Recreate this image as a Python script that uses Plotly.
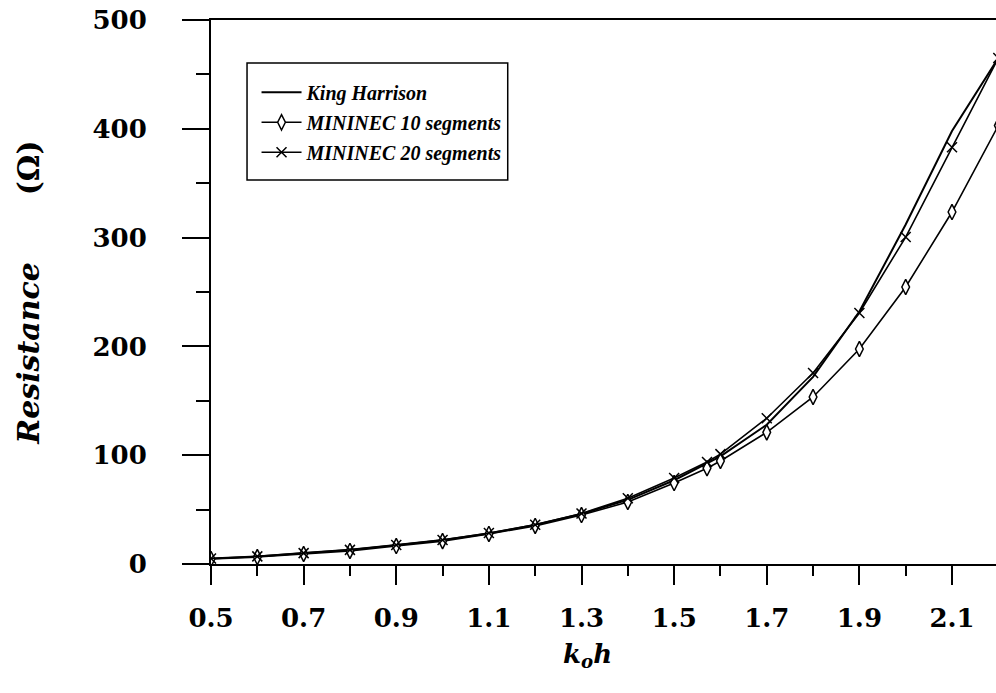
import plotly.graph_objects as go

# ---- data ----
kh_x = [0.5, 0.6, 0.7, 0.8, 0.9, 1.0, 1.1, 1.2, 1.3, 1.4, 1.5, 1.6, 1.7, 1.8, 1.9, 2.0, 2.1, 2.2]
kh_r = [5, 7, 10, 13, 17.5, 22, 28, 36, 46, 59, 77, 99, 128, 172, 232, 312, 398, 465]

m10_x = [0.5, 0.6, 0.7, 0.8, 0.9, 1.0, 1.1, 1.2, 1.3, 1.4, 1.5, 1.571, 1.6, 1.7, 1.8, 1.9, 2.0, 2.1, 2.2]
m10_r = [4.6, 6.4, 9.2, 12, 16.5, 21, 27.6, 35, 45, 57, 74.4, 88, 94.7, 121, 153.5, 197.6, 254.6, 323.5, 403]

m20_x = [0.5, 0.6, 0.7, 0.8, 0.9, 1.0, 1.1, 1.2, 1.3, 1.4, 1.5, 1.571, 1.6, 1.7, 1.8, 1.9, 2.0, 2.1, 2.2]
m20_r = [5, 7, 10, 13, 17.5, 22, 28.5, 36, 46.5, 60.5, 79, 93.7, 101, 134, 175.5, 230.7, 300.5, 383, 465]

x_ticks = [0.5, 0.7, 0.9, 1.1, 1.3, 1.5, 1.7, 1.9, 2.1]
x_ticklabels = ["0.5", "0.7", "0.9", "1.1", "1.3", "1.5", "1.7", "1.9", "2.1"]
x_minor = [0.6, 0.8, 1.0, 1.2, 1.4, 1.6, 1.8, 2.0]
y_ticks = [0, 100, 200, 300, 400, 500]
y_ticklabels = ["0", "100", "200", "300", "400", "500"]
y_minor = [50, 150, 250, 350, 450]

names = ["King Harrison", "MININEC 10 segments", "MININEC 20 segments"]
x_title = "<b><i>k<sub>o</sub>h</i></b>"
y_title = "<b><i>Resistance</i></b>" + "\u00a0" * 7 + "<b>(\u03a9)</b>"

SERIF = "DejaVu Serif"
LEGSERIF = "Liberation Serif"

fig = go.Figure()
fig.add_trace(go.Scatter(
    x=kh_x, y=kh_r, name=names[0], mode="lines", legendgroup="a",
    line=dict(color="black", width=2),
))
fig.add_trace(go.Scatter(
    x=m10_x, y=m10_r, name=names[1], mode="lines+markers", legendgroup="b",
    line=dict(color="black", width=1.6),
    marker=dict(symbol="diamond-tall", size=11, color="white",
                line=dict(color="black", width=1.5)),
))
fig.add_trace(go.Scatter(
    x=m20_x, y=m20_r, name=names[2], mode="lines+markers", legendgroup="c",
    line=dict(color="black", width=1.6),
    marker=dict(symbol="x-thin", size=10, color="black",
                line=dict(color="black", width=1.5)),
))

fig.update_layout(
    width=996, height=693,
    margin=dict(l=211, r=0, t=20, b=129, autoexpand=False),
    paper_bgcolor="white", plot_bgcolor="white",
    font=dict(family=SERIF, color="black"),
    showlegend=True,
    legend=dict(
        x=0.058, y=0.903, xanchor="left", yanchor="top",
        bgcolor="rgba(0,0,0,0)", borderwidth=0,
        font=dict(family=LEGSERIF, size=20, color="black", weight="bold", style="italic"),
        traceorder="grouped", tracegroupgap=1, itemwidth=40,
    ),
    shapes=[dict(type="rect", xref="paper", yref="paper",
                 x0=0.0459, x1=0.378, y0=0.706, y1=0.921,
                 line=dict(color="black", width=1.5), fillcolor="white", layer="below")],
    annotations=[dict(text=x_title, xref="paper", yref="paper", x=0.48, y=-0.168,
                      xanchor="center", yanchor="middle", showarrow=False,
                      font=dict(family=SERIF, size=26, color="black"))],
)

fig.update_xaxes(
    range=[0.5, 2.195], showgrid=False, zeroline=False,
    showline=True, linecolor="black", linewidth=2, mirror=True,
    tickmode="array", tickvals=x_ticks, ticktext=x_ticklabels,
    ticks="outside", ticklen=19, tickwidth=2, tickcolor="black",
    minor=dict(tickmode="array", tickvals=x_minor,
               ticks="outside", ticklen=10, tickwidth=2, tickcolor="black", showgrid=False),
    tickfont=dict(family=SERIF, size=26, color="black", weight="bold"),
    ticklabelstandoff=11, ticklabeloverflow="allow",
)
fig.update_yaxes(
    range=[0, 500], showgrid=False, zeroline=False,
    showline=True, linecolor="black", linewidth=2, mirror=False,
    tickmode="array", tickvals=y_ticks, ticktext=y_ticklabels,
    ticks="outside", ticklen=27, tickwidth=2, tickcolor="black",
    minor=dict(tickmode="array", tickvals=y_minor,
               ticks="outside", ticklen=13, tickwidth=2, tickcolor="black", showgrid=False),
    tickfont=dict(family=SERIF, size=26, color="black", weight="bold"),
    ticklabelstandoff=30, ticklabeloverflow="allow",
    title=dict(text=y_title, standoff=44,
               font=dict(family=SERIF, size=30, color="black")),
)

fig.write_html("out.html", config={"displayModeBar": False},
               post_script="document.body.style.margin='0';")
